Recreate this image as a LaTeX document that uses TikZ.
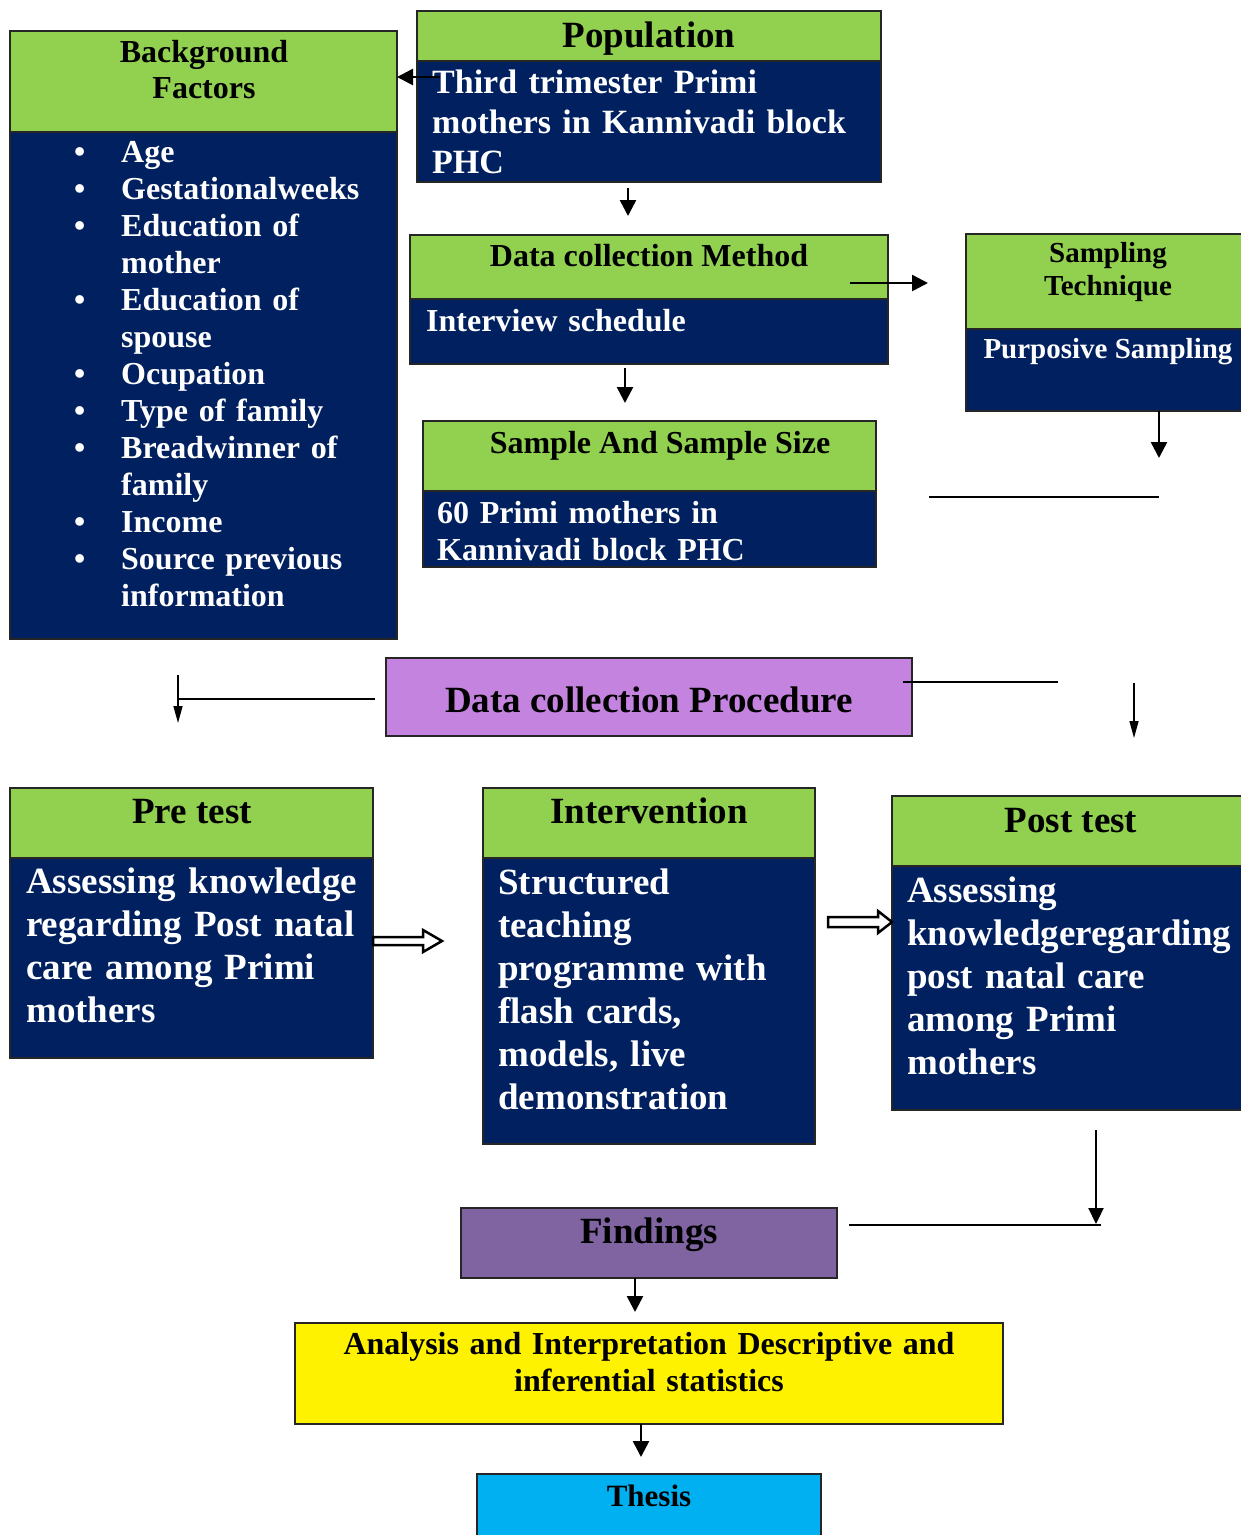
\documentclass[tikz,border=0pt]{standalone}
\usepackage{fontspec}
\setmainfont{Liberation Serif}
\usetikzlibrary{arrows.meta}
\definecolor{hgreen}{HTML}{92D050}
\definecolor{navyb}{HTML}{002060}
\definecolor{procv}{HTML}{C383DE}
\definecolor{findv}{HTML}{8064A2}
\definecolor{thesisc}{HTML}{00B0F0}
\newcommand\fsz[2]{\fontsize{#1}{#2}\selectfont}
\begin{document}
\begin{tikzpicture}[x=1pt,y=-1pt,
 box/.style={draw=black!85, line width=1.2pt, anchor=north west, inner sep=0pt, outer sep=0pt},
 hdr/.style={box, fill=hgreen},
 bdy/.style={box, fill=navyb},
 ttl/.style={anchor=base, inner sep=0pt},
 btx/.style={anchor=base west, inner sep=0pt, text=white, align=left, text width=#1},
 arr/.style={line width=2.5pt, -{Triangle[length=16pt,width=16pt]}},
 thinarr/.style={line width=1.5pt, -{Triangle[length=17pt,width=9pt]}},
 ln/.style={line width=2.2pt},
 thinln/.style={line width=1.5pt},
 hollow/.style={draw=black, fill=white, line width=2.5pt, line join=miter}
]
\clip (0,0) rectangle (1241,1535);
\fill[white] (0,0) rectangle (1241,1535);

% ---------- boxes ----------
\node[hdr, minimum width=387pt, minimum height=101pt] (bgh) at (10,31) {};
\node[bdy, minimum width=387pt, minimum height=507pt] (bgb) at (10,132) {};
\node[hdr, minimum width=464pt, minimum height=50pt] (poph) at (417,11) {};
\node[bdy, minimum width=464pt, minimum height=121pt] (popb) at (417,61) {};
\node[hdr, minimum width=478pt, minimum height=64pt] (dcmh) at (410,235) {};
\node[bdy, minimum width=478pt, minimum height=65pt] (dcmb) at (410,299) {};
\node[hdr, minimum width=290pt, minimum height=95pt] (samph) at (966,234) {};
\node[bdy, minimum width=290pt, minimum height=82pt] (sampb) at (966,329) {};
\node[hdr, minimum width=453pt, minimum height=70pt] (ssh) at (423,421) {};
\node[bdy, minimum width=453pt, minimum height=76pt] (ssb) at (423,491) {};
\node[box, fill=procv, minimum width=526pt, minimum height=78pt] (dcp) at (386,658) {};
\node[hdr, minimum width=363pt, minimum height=70pt] (preh) at (10,788) {};
\node[bdy, minimum width=363pt, minimum height=200pt] (preb) at (10,858) {};
\node[hdr, minimum width=332pt, minimum height=70pt] (inth) at (483,788) {};
\node[bdy, minimum width=332pt, minimum height=286pt] (intb) at (483,858) {};
\node[hdr, minimum width=360pt, minimum height=70pt] (posth) at (892,796) {};
\node[bdy, minimum width=360pt, minimum height=244pt] (postb) at (892,866) {};
\node[box, fill=findv, minimum width=376pt, minimum height=70pt] (find) at (461,1208) {};
\node[box, fill=yellow, minimum width=708pt, minimum height=101pt] (ana) at (295,1323) {};
\node[box, fill=thesisc, minimum width=344pt, minimum height=80pt] (thesis) at (477,1474) {};

% ---------- texts ----------
\node[ttl, align=center, text width=360pt, font=\bfseries\fsz{32}{36}] (bgt) at (204,62) {Background\\Factors};
\node[btx=320pt, font=\bfseries\fsz{32}{37}] (bgl) at (74,162) {%
\makebox[47pt][l]{•}Age\\
\makebox[47pt][l]{•}Gestationalweeks\\
\makebox[47pt][l]{•}Education of\\
\hspace*{47pt}mother\\
\makebox[47pt][l]{•}Education of\\
\hspace*{47pt}spouse\\
\makebox[47pt][l]{•}Ocupation\\
\makebox[47pt][l]{•}Type of family\\
\makebox[47pt][l]{•}Breadwinner of\\
\hspace*{47pt}family\\
\makebox[47pt][l]{•}Income\\
\makebox[47pt][l]{•}Source previous\\
\hspace*{47pt}information};

\node[ttl, font=\bfseries\fsz{37}{43}] (popt) at (649,47) {Population};
\node[btx=445pt, font=\bfseries\fsz{34}{40}] (popx) at (432,93) {Third trimester Primi\\mothers in Kannivadi block\\PHC};

\node[ttl, font=\bfseries\fsz{32}{37}] (dcmt) at (649,266) {Data collection Method};
\node[btx=445pt, font=\bfseries\fsz{32}{37}] (dcmx) at (426,331) {Interview schedule};

\node[ttl, align=center, text width=280pt, font=\bfseries\fsz{29}{33}] (sampt) at (1108,262) {Sampling\\Technique};
\node[ttl, text=white, font=\bfseries\fsz{29}{33}] (sampx) at (1108,358) {Purposive Sampling};

\node[ttl, font=\bfseries\fsz{32}{37}] (sst) at (660,453) {Sample And Sample Size};
\node[btx=430pt, font=\bfseries\fsz{32}{37}] (ssx) at (437,523) {60 Primi mothers in\\Kannivadi block PHC};

\node[ttl, font=\bfseries\fsz{37}{43}] (dcpt) at (649,712) {Data collection Procedure};

\node[ttl, font=\bfseries\fsz{37}{43}] (pret) at (192,823) {Pre test};
\node[btx=345pt, font=\bfseries\fsz{37}{43}] (prex) at (26,893) {Assessing knowledge\\regarding Post natal\\care among Primi\\mothers};

\node[ttl, font=\bfseries\fsz{37}{43}] (intt) at (649,823) {Intervention};
\node[btx=320pt, font=\bfseries\fsz{37}{43}] (intx) at (498,894) {Structured\\teaching\\programme with\\flash cards,\\models, live\\demonstration};

\node[ttl, font=\bfseries\fsz{37}{43}] (postt) at (1071,832) {Post test};
\node[btx=345pt, font=\bfseries\fsz{37}{43}] (postx) at (907,902) {Assessing\\knowledgeregarding\\post natal care\\among Primi\\mothers};

\node[ttl, font=\bfseries\fsz{37}{43}] (findt) at (649,1243) {Findings};
\node[ttl, align=center, text width=700pt, font=\bfseries\fsz{32}{37}] (anat) at (649,1354) {Analysis and Interpretation Descriptive and\\inferential statistics};
\node[ttl, font=\bfseries\fsz{31}{36}] (thesist) at (649,1506) {Thesis};

% ---------- connectors ----------
\coordinate (a1s) at (440,77);
\draw[arr] (a1s) -- (bgh.east |- a1s);

\coordinate (a2s) at (628,188);
\coordinate (a2e) at (628,216);
\draw[arr] (a2s) -- (a2e);

\coordinate (a3s) at (850,283);
\coordinate (a3e) at (928,283);
\draw[arr] (a3s) -- (a3e);

\coordinate (a4s) at (625,368);
\coordinate (a4e) at (625,403);
\draw[arr] (a4s) -- (a4e);

\coordinate (a5s) at (1159,411);
\coordinate (a5e) at (1159,458);
\draw[arr] (a5s) -- (a5e);

\coordinate (l6s) at (929,497);
\coordinate (l6e) at (1159,497);
\draw[ln] (l6s) -- (l6e);

\coordinate (l7s) at (375,699);
\coordinate (l7e) at (178,699);
\draw[thinln] (l7s) -- (l7e);
\coordinate (a7s) at (178,675);
\coordinate (a7e) at (178,723);
\draw[thinarr] (a7s) -- (a7e);

\coordinate (l8s) at (903,682);
\coordinate (l8e) at (1058,682);
\draw[ln] (l8s) -- (l8e);
\coordinate (a8s) at (1134,683);
\coordinate (a8e) at (1134,738);
\draw[thinarr] (a8s) -- (a8e);

\draw[hollow] (373,937) -- (423,937) -- (423,930) -- (442,941) -- (423,952) -- (423,945) -- (373,945) -- cycle;
\draw[hollow] (828,917) -- (878,917) -- (878,911) -- (892,922) -- (878,933) -- (878,927) -- (828,927) -- cycle;

\coordinate (a11s) at (1096,1130);
\coordinate (a11e) at (1096,1224);
\draw[ln, -{Triangle[length=16pt,width=15pt]}] (a11s) -- (a11e);
\coordinate (l11s) at (849,1225);
\coordinate (l11e) at (1101,1225);
\draw[ln] (l11s) -- (l11e);

\coordinate (a12s) at (635,1278);
\coordinate (a12e) at (635,1312);
\draw[arr] (a12s) -- (a12e);

\coordinate (a13s) at (641,1424);
\coordinate (a13e) at (641,1457);
\draw[arr] (a13s) -- (a13e);
\end{tikzpicture}
\end{document}
